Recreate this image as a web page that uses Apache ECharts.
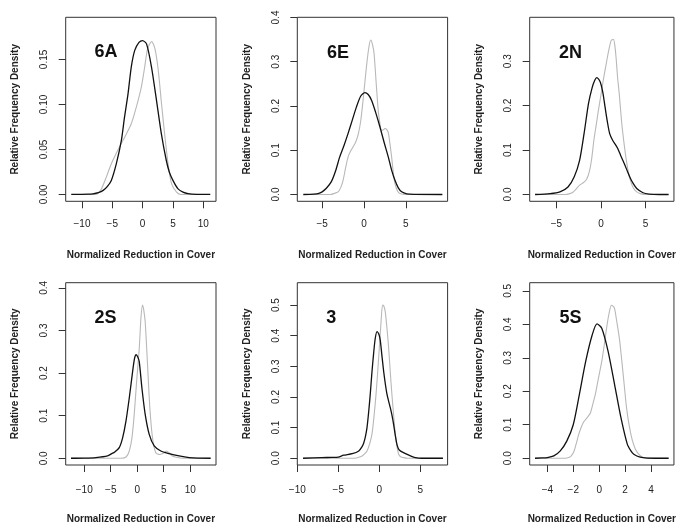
<!DOCTYPE html>
<html><head><meta charset="utf-8">
<script src="https://cdn.jsdelivr.net/npm/echarts@6/dist/echarts.min.js"></script>
<style>html,body{margin:0;padding:0;background:#fff}#c{width:678px;height:525px}</style>
</head><body><div id="c"></div>
<script>
// ---------- data ----------
const panelNames = ['6A', '6E', '2N', '2S', '3', '5S'];

const black6A = [[-11.76,0],[-9,0.0003],[-8.2,0.0007],[-7.3,0.002],[-6.5,0.0045],[-5.8,0.009],[-5.16,0.0156],[-4.34,0.034],[-3.5,0.06],[-3,0.085],[-2.4,0.112],[-1.87,0.1415],[-1.3,0.16],[-0.6,0.169],[0,0.171],[0.66,0.167],[1.48,0.141],[2.3,0.104],[3.1,0.067],[3.9,0.038],[4.4,0.025],[5.0,0.0156],[5.8,0.0065],[6.66,0.0026],[7.5,0.001],[9,0.0002],[11.15,0]];
const gray6A = [[-11.76,0],[-8,0],[-7.36,0.001],[-6.8,0.006],[-6.0,0.019],[-5.4,0.03],[-4.9,0.038],[-3.8,0.053],[-2.7,0.067],[-1.87,0.0785],[-1.04,0.097],[-0.22,0.119],[0.33,0.141],[0.83,0.162],[1.48,0.17],[2.03,0.162],[2.58,0.138],[3.13,0.1],[3.68,0.064],[4.2,0.034],[4.77,0.012],[5.6,0.0026],[6.3,0],[11.15,0]];

const black6E = [[-7.25,0],[-6,0.001],[-5.5,0.002],[-5,0.006],[-4.5,0.014],[-3.9,0.029],[-3.4,0.053],[-2.9,0.085],[-2.4,0.11],[-1.9,0.138],[-1.4,0.168],[-0.9,0.198],[-0.4,0.222],[0.1,0.23],[0.5,0.226],[0.9,0.213],[1.4,0.185],[1.9,0.153],[2.4,0.118],[2.9,0.085],[3.3,0.055],[3.7,0.032],[4.1,0.015],[4.5,0.006],[5.1,0.0015],[6,0.0003],[9.36,0]];
const gray6E = [[-7.25,0],[-4,0],[-3.6,0.002],[-3.1,0.006],[-2.8,0.015],[-2.5,0.032],[-2.2,0.06],[-1.9,0.085],[-1.6,0.098],[-1.3,0.108],[-1.0,0.118],[-0.7,0.135],[-0.4,0.165],[-0.1,0.215],[0.3,0.29],[0.6,0.335],[0.8,0.349],[1.0,0.34],[1.2,0.319],[1.5,0.24],[1.7,0.19],[1.9,0.16],[2.1,0.145],[2.3,0.146],[2.5,0.149],[2.7,0.147],[2.9,0.14],[3.1,0.115],[3.3,0.085],[3.5,0.05],[3.7,0.025],[4.0,0.008],[4.3,0.002],[5,0],[9.36,0]];

const black2N = [[-7.39,0],[-5.7,0.002],[-4.6,0.006],[-3.7,0.017],[-3.0,0.04],[-2.4,0.077],[-1.9,0.137],[-1.4,0.205],[-1.0,0.24],[-0.7,0.257],[-0.47,0.263],[-0.1,0.254],[0.2,0.23],[0.45,0.197],[0.7,0.165],[0.97,0.137],[1.3,0.122],[1.6,0.113],[1.86,0.104],[2.2,0.088],[2.6,0.07],[3.0,0.05],[3.3,0.036],[3.6,0.025],[4.0,0.0135],[4.7,0.004],[5.4,0.001],[6.5,0],[7.57,0]];
const gray2N = [[-7.39,0],[-4,0],[-3.5,0.002],[-3.15,0.005],[-2.8,0.012],[-2.4,0.021],[-1.9,0.028],[-1.6,0.035],[-1.3,0.052],[-1.05,0.08],[-0.8,0.122],[-0.55,0.155],[-0.29,0.19],[0.0,0.225],[0.25,0.257],[0.5,0.285],[0.79,0.317],[1.0,0.337],[1.15,0.347],[1.4,0.349],[1.55,0.335],[1.7,0.305],[1.85,0.265],[2.04,0.227],[2.3,0.165],[2.58,0.115],[2.85,0.075],[3.1,0.047],[3.4,0.025],[3.66,0.0135],[4.0,0.006],[4.4,0.002],[5,0],[7.57,0]];

const black2S = [[-12.5,0],[-10,0.0004],[-7.8,0.0016],[-5.6,0.0055],[-4.8,0.011],[-4.3,0.014],[-3.4,0.025],[-2.76,0.048],[-2.13,0.087],[-1.5,0.142],[-0.87,0.204],[-0.5,0.235],[-0.2,0.243],[0.1,0.238],[0.38,0.227],[0.88,0.165],[1.5,0.103],[2.26,0.056],[3.2,0.029],[4.45,0.017],[6.0,0.011],[7.9,0.0055],[9.8,0.0016],[11.5,0.0003],[13.85,0]];
const gray2S = [[-12.5,0],[-3,0],[-2.1,0.003],[-1.5,0.017],[-1.0,0.048],[-0.57,0.103],[-0.12,0.18],[0.38,0.258],[0.7,0.33],[1.0,0.36],[1.2,0.35],[1.5,0.32],[1.94,0.22],[2.38,0.118],[2.88,0.048],[3.5,0.013],[4.26,0.009],[5.1,0.013],[5.5,0.017],[6.0,0.013],[6.6,0.0055],[7.6,0.0016],[8.5,0],[13.85,0]];

const black3 = [[-9.3,0],[-7.0,0.002],[-5.8,0.003],[-5.0,0.004],[-4.35,0.01],[-3.3,0.015],[-2.5,0.024],[-2.1,0.038],[-1.9,0.05],[-1.7,0.07],[-1.5,0.1],[-1.3,0.15],[-1.1,0.21],[-0.9,0.28],[-0.7,0.34],[-0.5,0.39],[-0.28,0.413],[-0.05,0.405],[0.12,0.385],[0.3,0.34],[0.53,0.284],[0.75,0.24],[0.93,0.21],[1.15,0.185],[1.34,0.165],[1.55,0.14],[1.75,0.11],[1.95,0.075],[2.15,0.045],[2.35,0.03],[2.56,0.024],[3.2,0.015],[3.8,0.0076],[4.4,0.002],[5.2,0],[7.76,0]];
const gray3 = [[-9.3,0],[-3,0],[-2.5,0.003],[-2.1,0.0076],[-1.8,0.014],[-1.5,0.024],[-1.2,0.045],[-0.9,0.078],[-0.65,0.135],[-0.4,0.208],[-0.2,0.28],[0.0,0.36],[0.2,0.44],[0.4,0.5],[0.55,0.497],[0.73,0.478],[0.95,0.42],[1.14,0.36],[1.34,0.28],[1.54,0.208],[1.75,0.14],[1.95,0.078],[2.15,0.04],[2.36,0.013],[2.6,0.005],[2.97,0.002],[3.5,0],[7.76,0]];

const black5S = [[-4.95,0],[-4.4,0.0008],[-4.0,0.002],[-3.5,0.007],[-3.0,0.022],[-2.5,0.051],[-2.0,0.1],[-1.53,0.19],[-1.04,0.289],[-0.54,0.368],[-0.17,0.401],[0.2,0.388],[0.69,0.319],[1.19,0.22],[1.68,0.121],[2.17,0.042],[2.45,0.022],[2.67,0.012],[3.16,0.003],[3.7,0.0005],[5.36,0]];
const gray5S = [[-4.95,0],[-2.6,0],[-2.3,0.003],[-2.15,0.007],[-1.95,0.02],[-1.78,0.042],[-1.6,0.068],[-1.4,0.091],[-1.2,0.108],[-1.04,0.116],[-0.85,0.125],[-0.67,0.136],[-0.5,0.16],[-0.3,0.19],[-0.05,0.24],[0.2,0.289],[0.4,0.34],[0.57,0.388],[0.75,0.43],[0.94,0.457],[1.05,0.455],[1.19,0.447],[1.35,0.41],[1.56,0.358],[1.75,0.29],[1.93,0.22],[2.1,0.155],[2.3,0.101],[2.55,0.055],[2.8,0.027],[3.05,0.012],[3.3,0.004],[3.7,0.001],[4.2,0],[5.36,0]];

// tick values
const xTicks6A = [-10,-5,0,5,10], yTicks6A = [0,0.05,0.10,0.15];
const xTicks6E = [-5,0,5],        yTicks6E = [0,0.1,0.2,0.3,0.4];
const xTicks2N = [-5,0,5],        yTicks2N = [0,0.1,0.2,0.3];
const xTicks2S = [-10,-5,0,5,10], yTicks2S = [0,0.1,0.2,0.3,0.4];
const xTicks3  = [-10,-5,0,5],    yTicks3  = [0,0.1,0.2,0.3,0.4,0.5];
const xTicks5S = [-4,-2,0,2,4],   yTicks5S = [0,0.1,0.2,0.3,0.4,0.5];
const yDigits = [2,1,1,1,1,1];

const xTitle = 'Normalized Reduction in Cover';
const yTitle = 'Relative Frequency Density';

// ---------- layout ----------
const blacks = [black6A, black6E, black2N, black2S, black3, black5S];
const grays  = [gray6A, gray6E, gray2N, gray2S, gray3, gray5S];
const xTicks = [xTicks6A, xTicks6E, xTicks2N, xTicks2S, xTicks3, xTicks5S];
const yTicks = [yTicks6A, yTicks6E, yTicks2N, yTicks2S, yTicks3, yTicks5S];

const gridBoxes = [
  {left:65.7,  top:17.3,  width:150.3, height:184},
  {left:297.3, top:17.3,  width:150.3, height:184},
  {left:529.7, top:17.3,  width:150.3, height:184},
  {left:65.7,  top:282.7, width:150.3, height:183.3},
  {left:297.3, top:282.7, width:150.3, height:183.3},
  {left:529.7, top:282.7, width:150.3, height:183.3}
];
const xRanges = [[-12.68,12.1],[-7.97,9.99],[-7.99,8.17],[-13.5,14.86],[-10.0,8.33],[-5.36,5.77]];
const yRanges = [[-0.0076,0.1968],[-0.0154,0.4004],[-0.0153,0.3988],[-0.0158,0.4122],[-0.022,0.573],[-0.0202,0.5242]];
const labelPos = [[106,52.5],[338,53],[570.5,53],[105.5,318.3],[331.3,317.8],[570.5,318.3]];
const xLabelMargin = [17.7,17.7,17.7,19.8,19.8,19.8];

const FONT = '"Liberation Sans", Arial, Helvetica, sans-serif';
const AX = '#333';
const fmtX = v => (v < 0 ? '\u2212' + Math.abs(v) : String(v));

const grid = [], xAxis = [], yAxis = [], series = [], graphic = [];
for (let i = 0; i < 6; i++) {
  grid.push(Object.assign({show:true, borderColor:AX, borderWidth:1, backgroundColor:'transparent', containLabel:false}, gridBoxes[i]));
  xAxis.push({
    type:'value', gridIndex:i, min:xRanges[i][0], max:xRanges[i][1], position:'bottom',
    axisLine:{show:false, onZero:false}, splitLine:{show:false},
    axisTick:{show:true, length:7, customValues:xTicks[i], lineStyle:{color:AX, width:1}},
    axisLabel:{customValues:xTicks[i], formatter:fmtX, margin:xLabelMargin[i], fontSize:10, color:'#222', fontFamily:FONT},
    name:xTitle, nameLocation:'middle', nameGap:49,
    nameTextStyle:{fontSize:10, fontWeight:'bold', color:'#222', fontFamily:FONT}
  });
  const d = yDigits[i];
  yAxis.push({
    type:'value', gridIndex:i, min:yRanges[i][0], max:yRanges[i][1], position:'left',
    axisLine:{show:false, onZero:false}, splitLine:{show:false},
    axisTick:{show:true, length:7, customValues:yTicks[i], lineStyle:{color:AX, width:1}},
    axisLabel:{customValues:yTicks[i], formatter:v => v.toFixed(d), rotate:90, margin:16, fontSize:10, color:'#222', fontFamily:FONT},
    name:yTitle, nameLocation:'middle', nameGap:45,
    nameTextStyle:{fontSize:10, fontWeight:'bold', color:'#222', fontFamily:FONT}
  });
  series.push({type:'line', xAxisIndex:i, yAxisIndex:i, data:grays[i], showSymbol:false, smooth:0.25,
    lineStyle:{color:'#b8b8b8', width:1.1}, silent:true, z:2});
  series.push({type:'line', xAxisIndex:i, yAxisIndex:i, data:blacks[i], showSymbol:false, smooth:0.25,
    lineStyle:{color:'#111', width:1.3}, silent:true, z:3});
  graphic.push({type:'text', x:labelPos[i][0], y:labelPos[i][1], z:10,
    style:{text:panelNames[i], fontSize:18, fontWeight:'bold', fontFamily:FONT, fill:'#111', align:'center', verticalAlign:'middle'}});
}

const chart = echarts.init(document.getElementById('c'), null, {renderer:'canvas'});
chart.setOption({animation:false, backgroundColor:'#fff', grid, xAxis, yAxis, series, graphic});
</script></body></html>
